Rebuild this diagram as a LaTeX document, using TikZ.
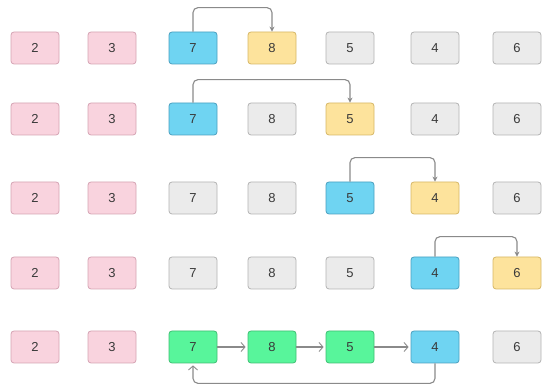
\documentclass[tikz,border=0pt]{standalone}
\usepackage{fontspec}
\setmainfont{Liberation Sans}
\usetikzlibrary{arrows.meta}
\definecolor{pinkF}{HTML}{F9D3DE}
\definecolor{pinkD}{HTML}{D5A3B3}
\definecolor{blueF}{HTML}{6FD4F2}
\definecolor{blueD}{HTML}{4A9FBF}
\definecolor{yelF}{HTML}{FDE39C}
\definecolor{yelD}{HTML}{D6B766}
\definecolor{grayF}{HTML}{EBEBEB}
\definecolor{grayD}{HTML}{B3B3B3}
\definecolor{grnF}{HTML}{58F59B}
\definecolor{grnD}{HTML}{3FBF73}
\definecolor{lineC}{HTML}{8A8A8A}
\definecolor{txtC}{HTML}{3A3A3A}
\tikzset{
  cell/.style={draw, rounded corners=3pt, line width=0.8pt, minimum width=48pt, minimum height=32pt, inner sep=0pt, font=\fontsize{13}{15}\selectfont, text=txtC},
  cP/.style={cell, fill=pinkF, draw=pinkD},
  cB/.style={cell, fill=blueF, draw=blueD},
  cY/.style={cell, fill=yelF, draw=yelD},
  cG/.style={cell, fill=grayF, draw=grayD},
  cN/.style={cell, fill=grnF, draw=grnD},
  arr/.style={draw=lineC, line width=1.1pt, rounded corners=5pt, -{Stealth[length=5pt,width=5pt]}},
  arrB/.style={draw=lineC, line width=1.1pt, rounded corners=5pt, shorten >=2pt, -{Straight Barb[length=4pt,width=9pt,line width=0.9pt]}}
}
\begin{document}
\begin{tikzpicture}[x=1pt,y=-1pt]
\useasboundingbox (0,0) rectangle (542,387);
% row 1
\node[cP] (r1c1) at (35,48) {2};
\node[cP] (r1c2) at (112,48) {3};
\node[cB] (r1c3) at (193,48) {7};
\node[cY] (r1c4) at (272,48) {8};
\node[cG] (r1c5) at (350,48) {5};
\node[cG] (r1c6) at (435,48) {4};
\node[cG] (r1c7) at (517,48) {6};
% row 2
\node[cP] (r2c1) at (35,119) {2};
\node[cP] (r2c2) at (112,119) {3};
\node[cB] (r2c3) at (193,119) {7};
\node[cG] (r2c4) at (272,119) {8};
\node[cY] (r2c5) at (350,119) {5};
\node[cG] (r2c6) at (435,119) {4};
\node[cG] (r2c7) at (517,119) {6};
% row 3
\node[cP] (r3c1) at (35,198) {2};
\node[cP] (r3c2) at (112,198) {3};
\node[cG] (r3c3) at (193,198) {7};
\node[cG] (r3c4) at (272,198) {8};
\node[cB] (r3c5) at (350,198) {5};
\node[cY] (r3c6) at (435,198) {4};
\node[cG] (r3c7) at (517,198) {6};
% row 4
\node[cP] (r4c1) at (35,273) {2};
\node[cP] (r4c2) at (112,273) {3};
\node[cG] (r4c3) at (193,273) {7};
\node[cG] (r4c4) at (272,273) {8};
\node[cG] (r4c5) at (350,273) {5};
\node[cB] (r4c6) at (435,273) {4};
\node[cY] (r4c7) at (517,273) {6};
% row 5
\node[cP] (r5c1) at (35,347) {2};
\node[cP] (r5c2) at (112,347) {3};
\node[cN] (r5c3) at (193,347) {7};
\node[cN] (r5c4) at (272,347) {8};
\node[cN] (r5c5) at (350,347) {5};
\node[cB] (r5c6) at (435,347) {4};
\node[cG] (r5c7) at (517,347) {6};
% arrows
\draw[arr] (r1c3.north) -- ++(0,-24) -| (r1c4.north);
\draw[arr] (r2c3.north) -- ++(0,-23) -| (r2c5.north);
\draw[arr] (r3c5.north) -- ++(0,-24) -| (r3c6.north);
\draw[arr] (r4c6.north) -- ++(0,-20) -| (r4c7.north);
\draw[arrB] (r5c3) -- (r5c4);
\draw[arrB] (r5c4) -- (r5c5);
\draw[arrB] (r5c5) -- (r5c6);
\draw[arrB] (r5c6.south) -- ++(0,20) -| (r5c3.south);
\end{tikzpicture}
\end{document}
